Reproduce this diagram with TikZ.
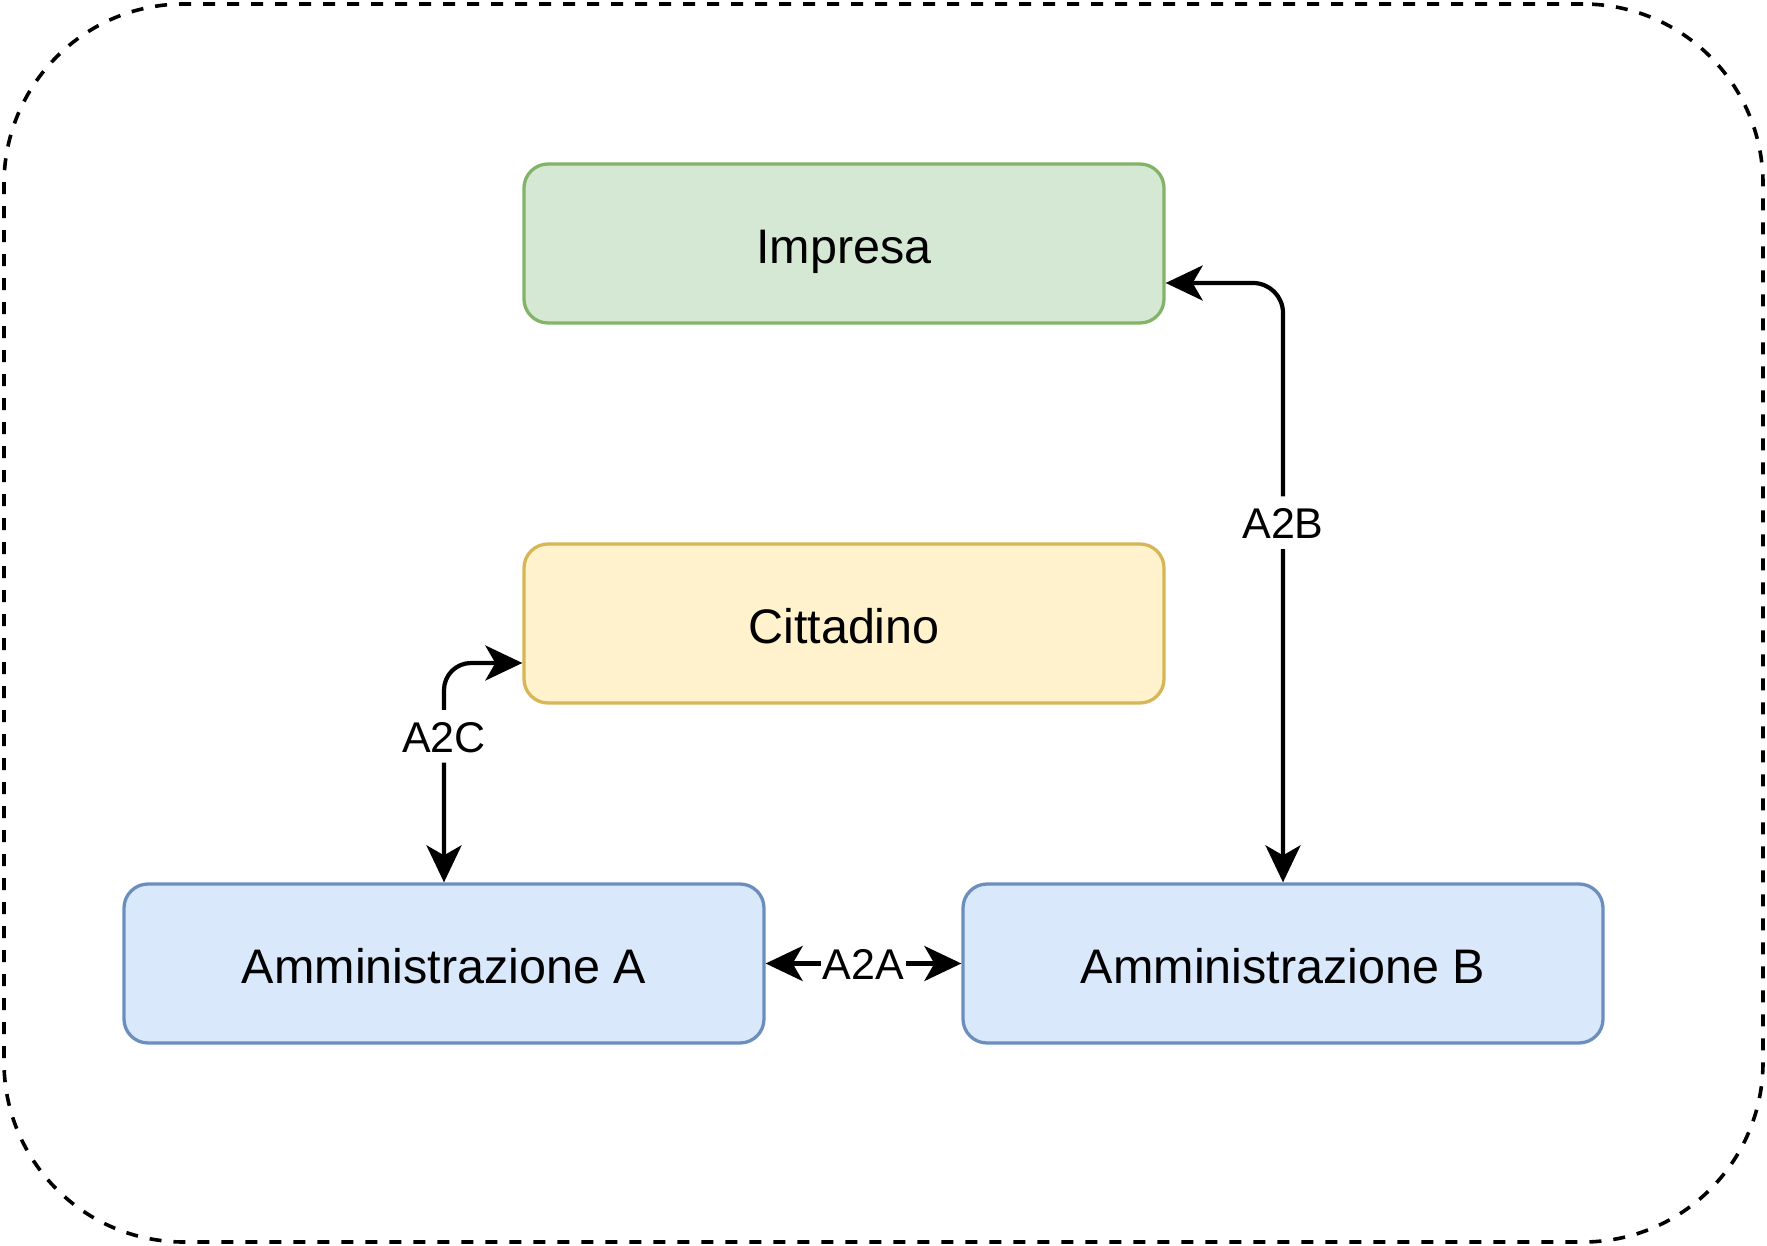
\documentclass[tikz,border=0pt]{standalone}
\usepackage{fontspec}
\setmainfont{Liberation Sans}
\usetikzlibrary{arrows.meta}
\definecolor{gfill}{HTML}{D5E8D4}\definecolor{gline}{HTML}{82B366}
\definecolor{yfill}{HTML}{FFF2CC}\definecolor{yline}{HTML}{D6B656}
\definecolor{bfill}{HTML}{DAE8FC}\definecolor{bline}{HTML}{6C8EBF}
\begin{document}
\begin{tikzpicture}[x=1pt,y=1pt,
  box/.style={rectangle, rounded corners=24pt, line width=3.3pt, minimum width=640pt, minimum height=159pt,
    font=\fontsize{48.5}{58}\selectfont, text height=40.5pt, text depth=0pt, inner sep=0pt},
  frame/.style={rectangle, rounded corners=180pt, draw=black, line width=3.6pt, dash pattern=on 12pt off 12pt,
    minimum width=1759pt, minimum height=1238pt, inner sep=0pt},
  tipx/.tip={Stealth[length=37pt,width=35pt,inset=10pt]},
  conn/.style={line width=4.2pt, draw=black, {tipx}-{tipx}},
  lbl/.style={fill=white, font=\fontsize{43}{52}\selectfont, text height=31.5pt, text depth=0pt, inner xsep=2pt, inner ysep=10.5pt}
]
\useasboundingbox (0,0) rectangle (1767,-1246);
\node[frame] (frame) at (883.5,-623) {};
\node[box, fill=gfill, draw=gline] (imp) at (844,-243.5) {Impresa};
\node[box, fill=yfill, draw=yline] (cit) at (844,-623.5) {Cittadino};
\node[box, fill=bfill, draw=bline] (amma) at (444,-963.5) {Amministrazione A};
\node[box, fill=bfill, draw=bline] (ammb) at (1283,-963.5) {Amministrazione B};
\draw[conn, rounded corners=30pt] ([yshift=-39.5pt]imp.east) -| node[lbl, pos=0.70] {A2B} (ammb.north);
\draw[conn, rounded corners=27pt] (amma.north) |- node[lbl, pos=0.333] {A2C} ([yshift=-39.5pt]cit.west);
\draw[conn] (amma.east) -- node[lbl] {A2A} (ammb.west);
\end{tikzpicture}
\end{document}
